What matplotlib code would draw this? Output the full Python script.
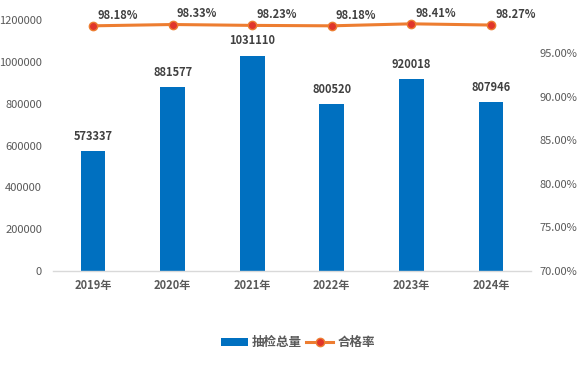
import matplotlib.pyplot as plt
import numpy as np
from matplotlib.lines import Line2D
from matplotlib.patches import Patch

plt.rcParams['font.family'] = ['Noto Sans CJK SC', 'DejaVu Sans']

# 数据
years = ['2019年', '2020年', '2021年', '2022年', '2023年', '2024年']
totals = [573337, 881577, 1031110, 800520, 920018, 807946]
rates = [98.18, 98.33, 98.23, 98.18, 98.41, 98.27]

bar_color = '#0070C0'
line_color = '#ED7D31'
text_color = '#404040'
tick_color = '#595959'

fig = plt.figure(figsize=(5.84, 3.74), dpi=100)
ax = fig.add_axes([0.091, 0.2754, 0.818, 0.6979])
ax2 = ax.twinx()

x = np.arange(len(years))

# 柱状图 - 抽检总量
bars = ax.bar(x, totals, width=0.31, color=bar_color, zorder=2)
for xi, v in zip(x, totals):
    ax.annotate(str(v), (xi, v), xytext=(0, 6), textcoords='offset points',
                ha='center', va='bottom', fontsize=8, fontweight='bold', color=text_color)

ax.set_xlim(-0.5, len(years) - 0.5)
ax.set_ylim(0, 1250000)
ax.set_yticks(np.arange(0, 1200001, 200000))
ax.set_yticklabels([str(t) for t in range(0, 1200001, 200000)])
ax.set_xticks(x)
ax.set_xticklabels(years, fontweight='bold')

# 折线图 - 合格率
ax2.plot(x, rates, color=line_color, linewidth=2.2, marker='o', markersize=6,
         markerfacecolor='#E0352B', markeredgecolor=line_color, markeredgewidth=1, zorder=3)
for xi, r in zip(x, rates):
    ax2.annotate('%.2f%%' % r, (xi, r), xytext=(3, 3), textcoords='offset points',
                 ha='left', va='bottom', fontsize=8, fontweight='bold', color=text_color)

ax2.set_ylim(70, 100)
ax2.set_yticks([70, 75, 80, 85, 90, 95])
ax2.set_yticklabels(['%.2f%%' % t for t in [70, 75, 80, 85, 90, 95]])

for a in (ax, ax2):
    for s in a.spines.values():
        s.set_visible(False)
    a.tick_params(length=0, labelsize=8, colors=tick_color)
ax.tick_params(axis='y', pad=8)
ax2.tick_params(axis='y', pad=6)
ax.tick_params(axis='x', pad=6)
ax.spines['bottom'].set_visible(True)
ax.spines['bottom'].set_color('#D9D9D9')
ax.spines['bottom'].set_linewidth(1)

# 图例
handles = [
    Patch(facecolor=bar_color, label='抽检总量'),
    Line2D([0], [0], color=line_color, linewidth=2.2, marker='o', markersize=6,
           markerfacecolor='#E0352B', markeredgecolor=line_color, label='合格率'),
]
fig.legend(handles=handles, loc='center', bbox_to_anchor=(0.51, 0.083), ncol=2,
           frameon=False, handlelength=2.2, handletextpad=0.3, columnspacing=0.3,
           prop={'size': 9, 'weight': 'bold'}, labelcolor=tick_color)

fig.savefig('out.png', dpi=100)
